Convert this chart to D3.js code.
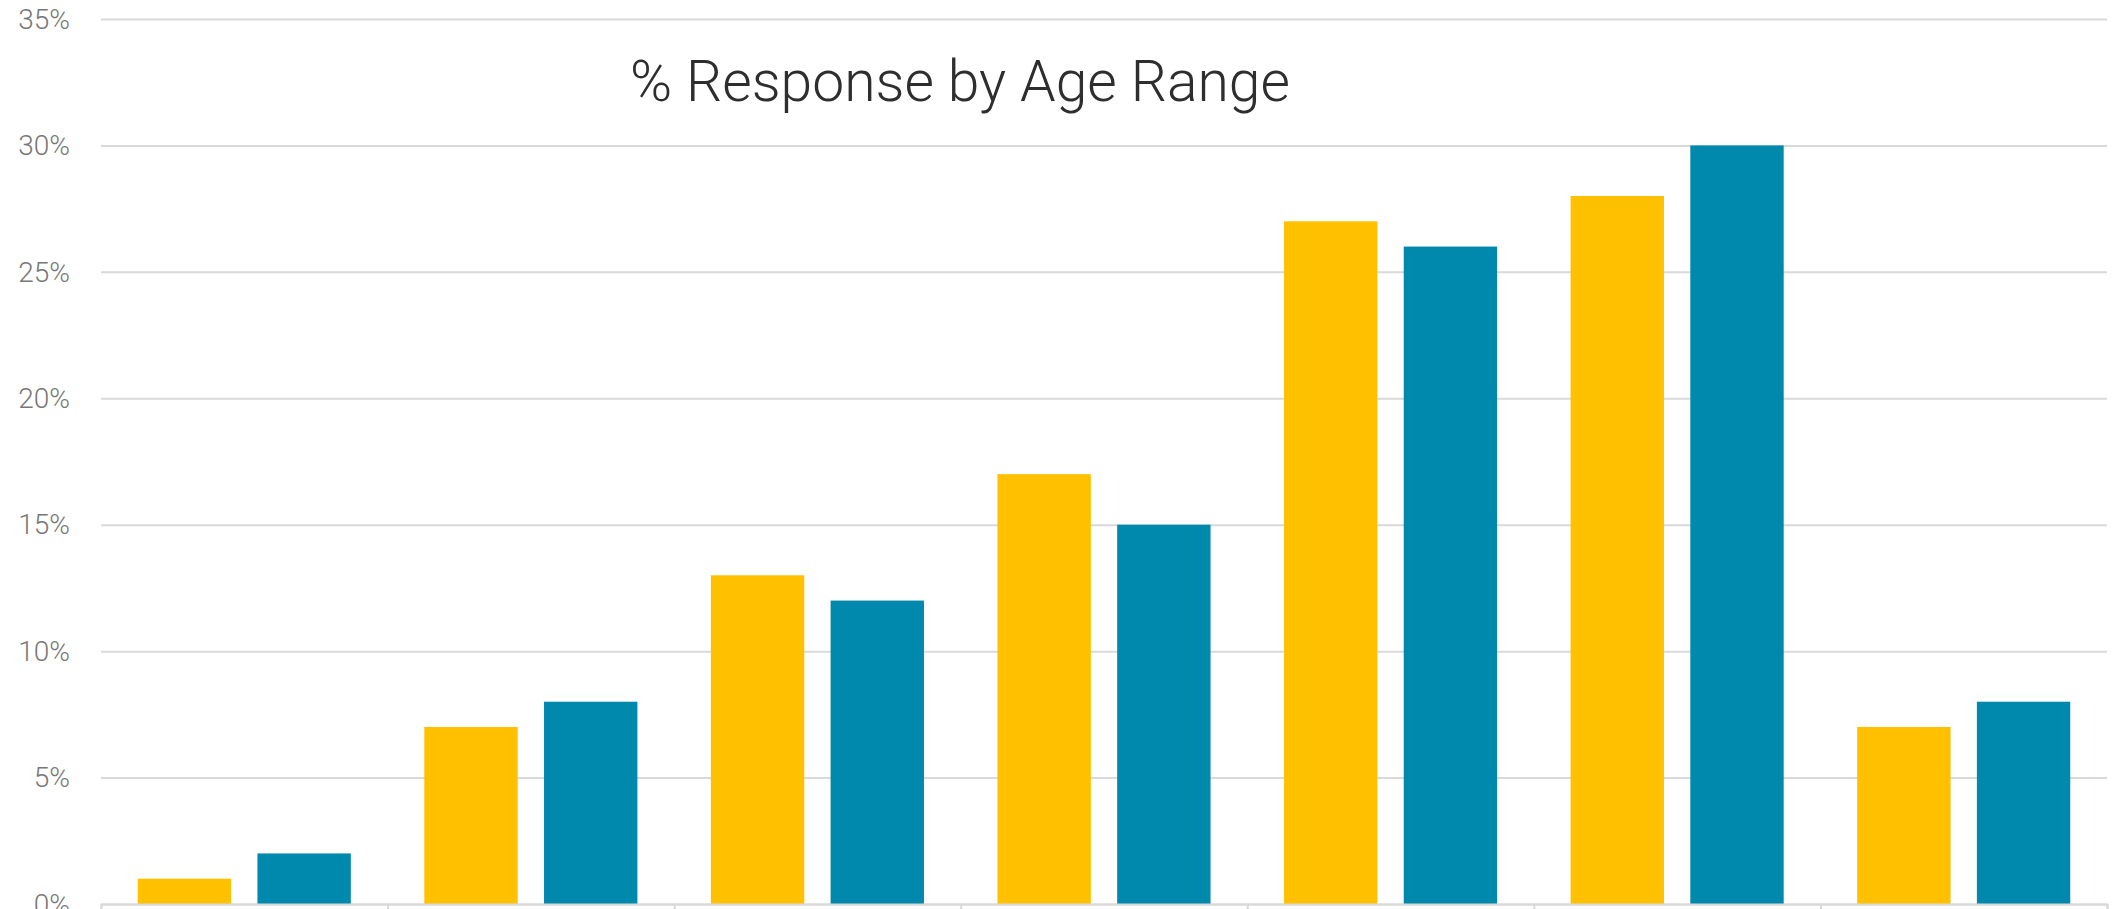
<!DOCTYPE html>
<html>
<head>
<meta charset="utf-8">
<script src="https://cdn.jsdelivr.net/npm/d3@7"></script>
<style>
  html, body { margin: 0; padding: 0; background: #ffffff; overflow: hidden; }
  svg { display: block; }
</style>
</head>
<body>
<svg id="chart" width="2113" height="909"></svg>
<script>
// ---- data ----
const categories = ["Under 18", "18-24", "25-34", "35-44", "45-54", "55-64", "65+"];
const seriesNames = ["Series A", "Series B"];
const seriesA = [0.01, 0.07, 0.13, 0.17, 0.27, 0.28, 0.07];
const seriesB = [0.02, 0.08, 0.12, 0.15, 0.26, 0.30, 0.08];
const yTicks = [0, 0.05, 0.10, 0.15, 0.20, 0.25, 0.30, 0.35];
const titleText = "% Response by Age Range";
const colors = ["#FFC000", "#0088AD"];

// ---- layout ----
const W = 2113, H = 909;
const plotLeft = 101, plotRight = 2107, plotTop = 19, plotBottom = 904;

const svg = d3.select("#chart");

const x0 = d3.scaleBand().domain(categories).range([plotLeft, plotRight]).paddingInner(0).paddingOuter(0);
const x1 = d3.scaleBand().domain(seriesNames).range([0, x0.bandwidth()]).paddingInner(0.22).paddingOuter(0.307);
const y = d3.scaleLinear().domain([0, 0.35]).range([plotBottom, plotTop]);
const color = d3.scaleOrdinal().domain(seriesNames).range(colors);

const fmt = d3.format(".0%");

// gridlines + y labels
const yAxis = d3.axisLeft(y).tickValues(yTicks).tickSize(-(plotRight - plotLeft)).tickFormat(fmt).tickPadding(31);
const gy = svg.append("g").attr("transform", `translate(${plotLeft},0)`).call(yAxis);
gy.select(".domain").remove();
gy.selectAll(".tick line").attr("stroke", "#d9d9d9").attr("stroke-width", 2);
gy.selectAll(".tick text")
  .attr("fill", "#777777")
  .style("font-family", "Roboto, 'Open Sans', sans-serif")
  .style("font-weight", 300)
  .style("font-size", "28px")
  .attr("dy", "0.33em");

// bars
const rows = categories.map((c, i) => ({ cat: c, vals: [seriesA[i], seriesB[i]] }));
const groups = svg.append("g").selectAll("g").data(rows).join("g")
  .attr("transform", d => `translate(${x0(d.cat)},0)`);
groups.selectAll("rect")
  .data(d => d.vals.map((v, j) => ({ s: seriesNames[j], v })))
  .join("rect")
  .attr("x", d => x1(d.s))
  .attr("width", x1.bandwidth())
  .attr("y", d => y(d.v))
  .attr("height", d => y(0) - y(d.v))
  .attr("fill", d => color(d.s));

// bottom axis (category boundaries)
const boundaries = d3.range(categories.length + 1).map(i => plotLeft + i * x0.step());
const xAxis = d3.axisBottom(d3.scaleLinear().domain([plotLeft, plotRight]).range([plotLeft, plotRight]))
  .tickValues(boundaries).tickSize(12).tickFormat("");
const gx = svg.append("g").attr("transform", `translate(0,${plotBottom})`).call(xAxis);
gx.select(".domain").attr("stroke", "#d9d9d9").attr("stroke-width", 2);
gx.selectAll(".tick line").attr("stroke", "#d9d9d9").attr("stroke-width", 2);

// title
const title = svg.append("text")
  .attr("x", 630)
  .attr("y", 101)
  .attr("fill", "#2e2e2e")
  .style("font-family", "Roboto, 'Open Sans', sans-serif")
  .style("font-weight", 300)
  .style("font-size", "58px")
  .text(titleText);
// fit to reference width
const targetW = 660;
const bw = title.node().getBBox().width;
if (bw > 0) {
  const fs = 58 * targetW / bw;
  title.style("font-size", fs.toFixed(1) + "px");
}
</script>
</body>
</html>
